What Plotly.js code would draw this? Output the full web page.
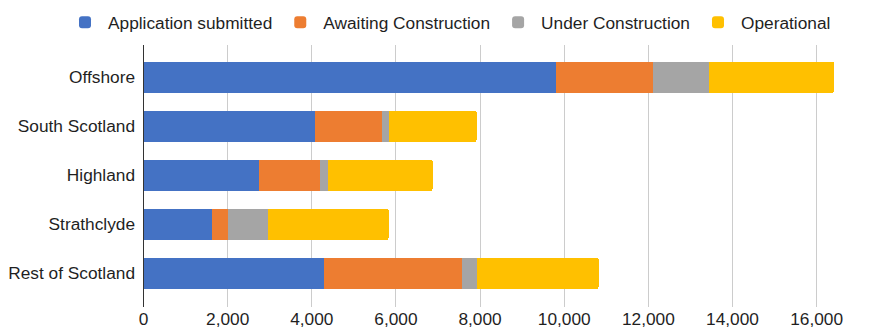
<!DOCTYPE html>
<html>
<head>
<meta charset="utf-8">
<script src="https://cdn.plot.ly/plotly-3.0.1.min.js"></script>
<style>
  html, body { margin: 0; padding: 0; background: #fff; }
  #chart { width: 896px; height: 331px; }
</style>
</head>
<body>
<div id="chart"></div>
<script>
// Regions (categories), top to bottom
const regions = ["Offshore", "South Scotland", "Highland", "Strathclyde", "Rest of Scotland"];

// Capacity by stage
const applicationSubmitted = [9800, 4083, 2752, 1628, 4290];
const awaitingConstruction = [2316, 1578, 1443, 373, 3280];
const underConstruction    = [1331, 174, 197, 951, 349];
const operational          = [2964, 2084, 2481, 2876, 2900];

const seriesNames  = ["Application submitted", "Awaiting Construction", "Under Construction", "Operational"];
const seriesColors = ["#4472C4", "#ED7D31", "#A5A5A5", "#FFC000"];
const seriesValues = [applicationSubmitted, awaitingConstruction, underConstruction, operational];

const xTickVals = [0, 2000, 4000, 6000, 8000, 10000, 12000, 14000, 16000];

const FONT = "Arial, 'Liberation Sans', sans-serif";
const FS = 17.3;
const W = 896, H = 331;

const traces = seriesValues.map((vals, i) => ({
  type: "bar",
  orientation: "h",
  name: seriesNames[i],
  y: regions,
  x: vals,
  marker: { color: seriesColors[i], line: { width: 0 } },
  hoverinfo: "none"
}));

const layout = {
  width: W,
  height: H,
  margin: { l: 0, r: 0, t: 0, b: 0, pad: 0 },
  paper_bgcolor: "#ffffff",
  plot_bgcolor: "#ffffff",
  font: { family: FONT, size: FS, color: "#1f1f1f" },
  barmode: "stack",
  bargap: 0.367,
  barcornerradius: 2,
  showlegend: true,
  legend: {
    orientation: "h",
    x: 62 / W,
    xanchor: "left",
    y: 1 - 4.5 / H,
    yanchor: "top",
    itemwidth: 36,
    font: { family: FONT, size: FS, color: "#1f1f1f" },
    traceorder: "normal",
    bgcolor: "rgba(0,0,0,0)"
  },
  xaxis: {
    domain: [143.5 / W, 837.7 / W],
    range: [0, 16500],
    tickvals: xTickVals,
    ticktext: xTickVals.map(v => v.toLocaleString("en-US")),
    showgrid: true,
    gridcolor: "#cccccc",
    gridwidth: 1,
    zeroline: false,
    showline: false,
    ticks: "",
    tickfont: { family: FONT, size: FS, color: "#1f1f1f" },
    automargin: false,
    fixedrange: true
  },
  yaxis: {
    domain: [1 - 306.7 / H, 1 - 45 / H],
    type: "category",
    categoryorder: "array",
    categoryarray: regions,
    range: [4.68, -0.66],
    showgrid: false,
    zeroline: false,
    showline: true,
    linecolor: "#333333",
    linewidth: 1,
    ticks: "outside",
    ticklen: 4,
    tickcolor: "rgba(0,0,0,0)",
    tickfont: { family: FONT, size: FS, color: "#1f1f1f" },
    automargin: false,
    fixedrange: true
  }
};

Plotly.newPlot("chart", traces, layout, { displayModeBar: false, staticPlot: true });
</script>
</body>
</html>
